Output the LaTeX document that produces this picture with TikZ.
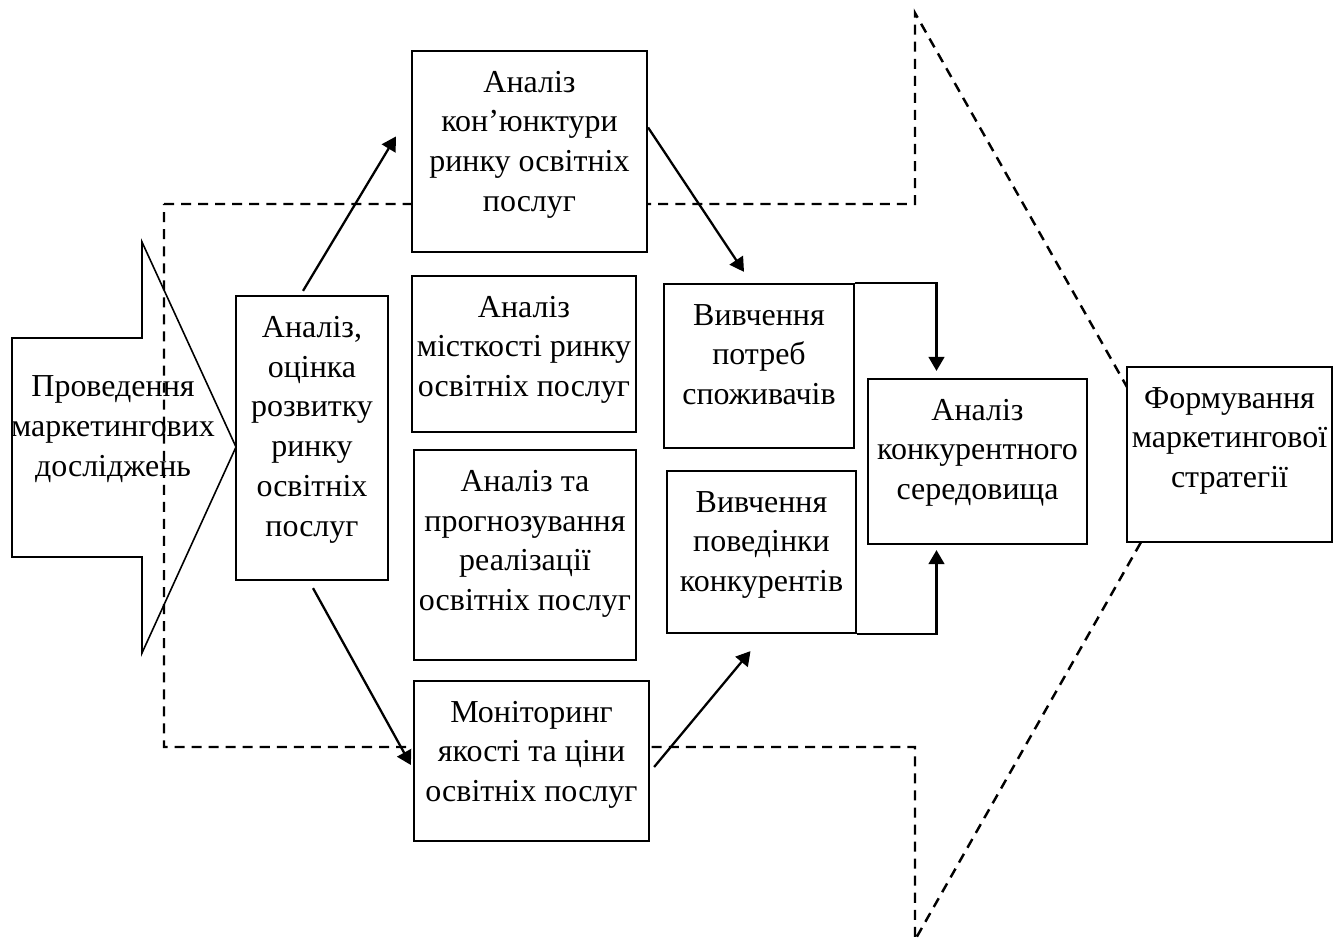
\documentclass[tikz,border=0pt]{standalone}
\usepackage{fontspec}
\setmainfont{Liberation Serif}
\usetikzlibrary{arrows.meta,calc}

\newcommand{\boxtext}[3]{\parbox[c][#2][t]{#1}{\centering
  \leftskip=-1cm plus 1fil\relax\rightskip=-1cm plus 1fil\relax
  \rule{0pt}{0.82cm}#3}}

\begin{document}
\begin{tikzpicture}[x=0.02cm, y=-0.02cm,
  font=\fontsize{18.2}{22.76}\selectfont,
  box/.style={draw, fill=white, line width=1.3pt, inner sep=0pt},
  conn/.style={-{Triangle[length=8pt,width=9pt]}, line width=1.3pt},
  border/.style={line width=1.4pt, dash pattern=on 5.7pt off 4pt}]
\useasboundingbox (0,0) rectangle (1333,942);

% block arrow on the left
\draw[line width=0.9pt] (12,338) -- (142,338) -- (142,242) -- (236,447)
  -- (142,653) -- (142,557) -- (12,557) -- cycle;
\node[align=center, anchor=north, inner sep=0pt] (research) at (113,375)
  {Проведення\\маркетингових\\досліджень};

% dashed arrow
\draw[border] (164,204) -- (915,204) -- (915,13) -- (1178,477)
  -- (915,940) -- (915,747) -- (164,747) -- cycle;

\node[box] (ocinka) at (312,438) {\boxtext{3.04cm}{5.68cm}{Аналіз,\\ оцінка\\ розвитку\\ ринку\\ освітніх\\ послуг}};
\node[box] (kon) at (529.5,151.5) {\boxtext{4.7cm}{4.02cm}{Аналіз\\ кон’юнктури\\ ринку освітніх\\ послуг}};
\node[box] (mist) at (524,354) {\boxtext{4.48cm}{3.12cm}{Аналіз\\ місткості ринку\\ освітніх послуг}};
\node[box] (prog) at (525,555) {\boxtext{4.44cm}{4.2cm}{Аналіз та\\ прогнозування\\ реалізації\\ освітніх послуг}};
\node[box] (monit) at (531.5,761) {\boxtext{4.7cm}{3.2cm}{Моніторинг\\ якості та ціни\\ освітніх послуг}};
\node[box] (potreb) at (759,366) {\boxtext{3.8cm}{3.28cm}{Вивчення\\ потреб\\ споживачів}};
\node[box] (povod) at (761.5,552) {\boxtext{3.78cm}{3.24cm}{Вивчення\\ поведінки\\ конкурентів}};
\node[box] (konk) at (977.5,461.5) {\boxtext{4.38cm}{3.3cm}{Аналіз\\ конкурентного\\ середовища}};
\node[box] (form) at (1229.5,454.5) {\boxtext{4.1cm}{3.5cm}{Формування\\ маркетингової\\ стратегії}};

% connectors
\draw[conn] ($(ocinka.north)+(-9,-4)$) -- ($(kon.west)+(-15,-15)$);
\draw[conn] ($(kon.east)+(0,-24)$) -- ($(potreb.north)+(-15,-11)$);
\draw[conn] ($(ocinka.south)+(1,7)$) -- ($(monit.west)+(-2,4)$);
\draw[conn] ($(monit.east)+(4,6)$) -- ($(povod.south)+(-11,17)$);
\draw[conn] (potreb.north east) -| ($(konk.north)+(-41,-7)$);
\draw[conn] (povod.south east) -| ($(konk.south)+(-41,5)$);
\end{tikzpicture}
\end{document}
